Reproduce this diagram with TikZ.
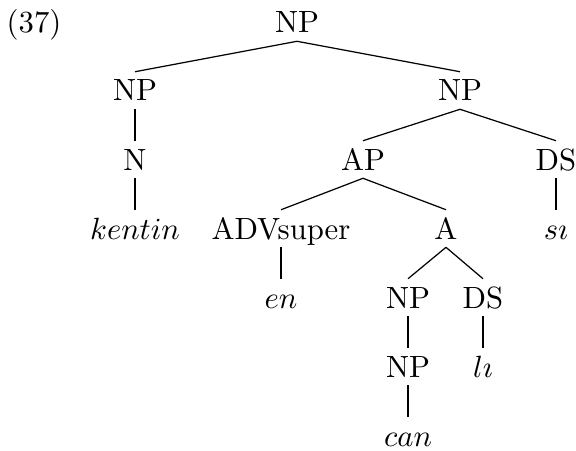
\documentclass[tikz,border=0pt]{standalone}
\begin{document}
\begin{tikzpicture}[x=0.3257pt, y=-0.3257pt,
  every node/.style={anchor=base, inner xsep=0pt, inner ysep=2.5pt,
                     text height=6.83pt, text depth=0pt},
  branch/.style={line width=0.4pt},
  unary/.style={line width=0.7pt}]
  \useasboundingbox (0,0) rectangle (576,451);
  \node (ex) at (34,33) {(37)};
  \node (root) at (297,33) {NP};
  \node (npl) at (135,101) {NP};
  \node (npr) at (460,101) {NP};
  \node (n) at (135,170) {N};
  \node (ap) at (363,170) {AP};
  \node (dsr) at (556,170) {DS};
  \node (kentin) at (135,239) {$kentin$};
  \node (adv) at (281,239) {ADVsuper};
  \node (a) at (446,239) {A};
  \node (si) at (556,239) {$s\imath$};
  \node (en) at (281,308) {$en$};
  \node (npa) at (408,308) {NP};
  \node (dsa) at (483,308) {DS};
  \node (npb) at (408,377) {NP};
  \node (li) at (483,377) {$l\imath$};
  \node (can) at (408,446) {$can$};
  \draw [branch] (root.south) -- (npl.north);
  \draw [branch] (root.south) -- (npr.north);
  \draw [unary] (npl.south) -- (n.north);
  \draw [unary] (n.south) -- (kentin.north);
  \draw [branch] (npr.south) -- (ap.north);
  \draw [branch] (npr.south) -- (dsr.north);
  \draw [unary] (dsr.south) -- (si.north);
  \draw [branch] (ap.south) -- (adv.north);
  \draw [branch] (ap.south) -- (a.north);
  \draw [unary] (adv.south) -- (en.north);
  \draw [branch] (a.south) -- (npa.north);
  \draw [branch] (a.south) -- (dsa.north);
  \draw [unary] (npa.south) -- (npb.north);
  \draw [unary] (dsa.south) -- (li.north);
  \draw [unary] (npb.south) -- (can.north);
\end{tikzpicture}
\end{document}
